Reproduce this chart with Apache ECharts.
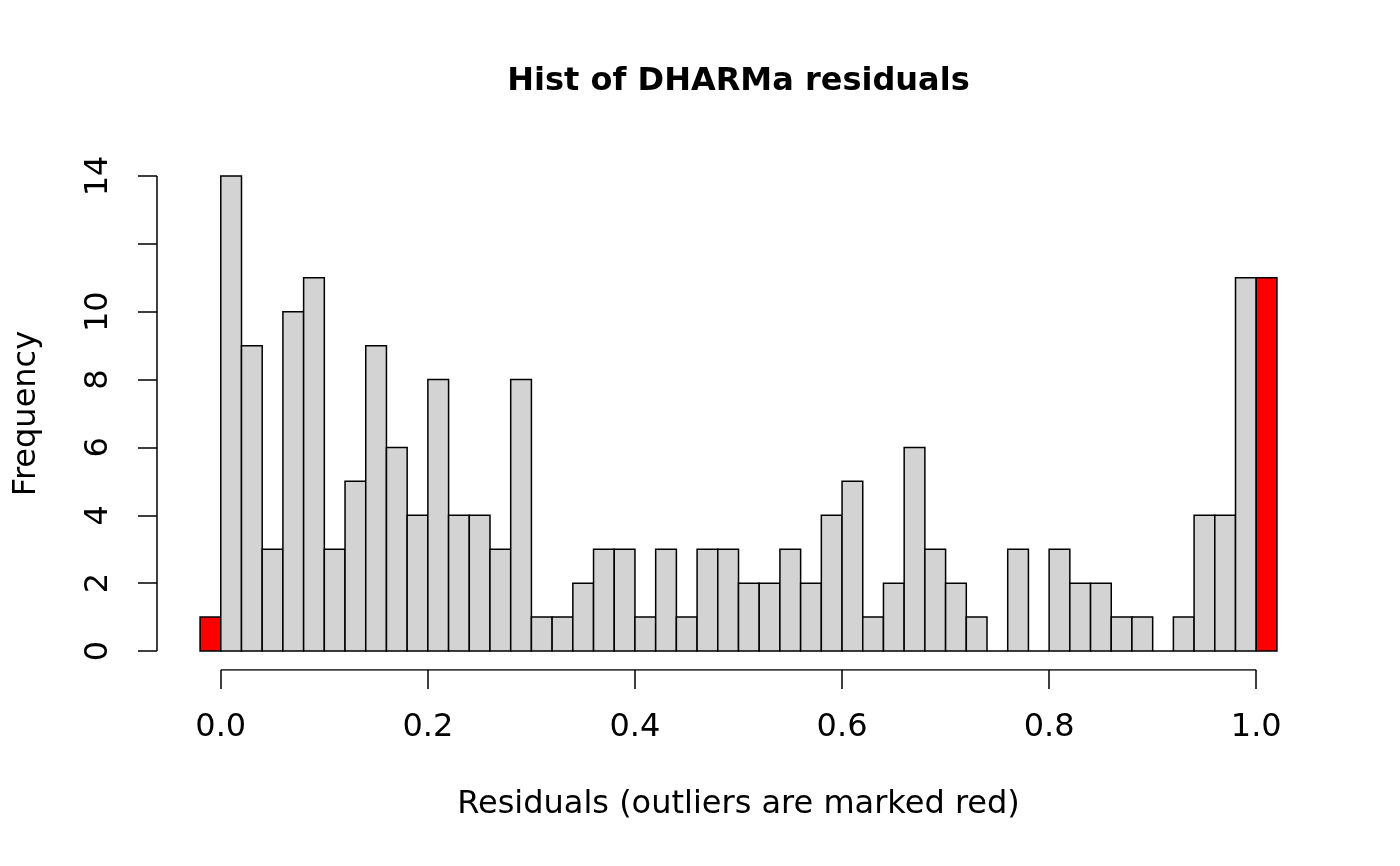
<!DOCTYPE html>
<html>
<head>
<meta charset="utf-8">
<script src="https://cdn.jsdelivr.net/npm/echarts@6/dist/echarts.min.js"></script>
<style>
html,body{margin:0;padding:0;background:#fff;}
#chart{width:1400px;height:866px;}
</style>
</head>
<body>
<div id="chart"></div>
<script>
// Histogram bin edges (left / right) and counts
var binLeft = [-0.02,0.00,0.02,0.04,0.06,0.08,0.10,0.12,0.14,0.16,0.18,0.20,0.22,0.24,0.26,0.28,0.30,0.32,0.34,0.36,0.38,0.40,0.42,0.44,0.46,0.48,0.50,0.52,0.54,0.56,0.58,0.60,0.62,0.64,0.66,0.68,0.70,0.72,0.74,0.76,0.78,0.80,0.82,0.84,0.86,0.88,0.90,0.92,0.94,0.96,0.98,1.00];
var binRight = [0.00,0.02,0.04,0.06,0.08,0.10,0.12,0.14,0.16,0.18,0.20,0.22,0.24,0.26,0.28,0.30,0.32,0.34,0.36,0.38,0.40,0.42,0.44,0.46,0.48,0.50,0.52,0.54,0.56,0.58,0.60,0.62,0.64,0.66,0.68,0.70,0.72,0.74,0.76,0.78,0.80,0.82,0.84,0.86,0.88,0.90,0.92,0.94,0.96,0.98,1.00,1.02];
var counts = [1,14,9,3,10,11,3,5,9,6,4,8,4,4,3,8,1,1,2,3,3,1,3,1,3,3,2,2,3,2,4,5,1,2,6,3,2,1,0,3,0,3,2,2,1,1,0,1,4,4,11,11];
var outlierBins = [0, 51];
var xTicks = [0, 0.2, 0.4, 0.6, 0.8, 1.0];
var yTicks = [0, 2, 4, 6, 8, 10, 12, 14];
var yTickLabels = [0, 2, 4, 6, 8, 10, 14];

var FONT = 'DejaVu Sans';
var data = binLeft.map(function (l, i) {
  return [l, binRight[i], counts[i], outlierBins.indexOf(i) >= 0 ? 1 : 0];
});

var X_MIN = -0.0616, X_MAX = 1.0616, Y_MIN = -0.56, Y_MAX = 14.56;

var chart = echarts.init(document.getElementById('chart'), null, {renderer: 'canvas'});
chart.setOption({
  animation: false,
  backgroundColor: '#ffffff',
  title: {
    text: 'Hist of DHARMa residuals',
    left: 733.5,
    textAlign: 'center',
    top: 61,
    textStyle: {fontFamily: FONT, fontWeight: 'bold', fontSize: 32, color: '#000'}
  },
  grid: {left: 157, right: 80, top: 157, bottom: 196, containLabel: false},
  xAxis: {
    type: 'value', min: X_MIN, max: X_MAX,
    splitLine: {show: false},
    axisLine: {show: false, onZero: false},
    axisTick: {show: true, customValues: xTicks, length: 19, lineStyle: {color: '#000', width: 1.5}},
    axisLabel: {
      customValues: xTicks, margin: 42,
      fontFamily: FONT, fontSize: 32, color: '#000',
      formatter: function (v) { return v.toFixed(1); }
    },
    name: 'Residuals (outliers are marked red)',
    nameLocation: 'middle', nameGap: 119,
    nameTextStyle: {fontFamily: FONT, fontSize: 32, color: '#000'}
  },
  yAxis: {
    type: 'value', min: Y_MIN, max: Y_MAX,
    splitLine: {show: false},
    axisLine: {show: false, onZero: false},
    axisTick: {show: true, customValues: yTicks, length: 19, lineStyle: {color: '#000', width: 1.5}},
    axisLabel: {
      customValues: yTickLabels, margin: 42, rotate: 90,
      fontFamily: FONT, fontSize: 32, color: '#000',
      formatter: function (v) { return String(Math.round(v)); }
    },
    name: 'Frequency',
    nameLocation: 'middle', nameGap: 114,
    nameTextStyle: {fontFamily: FONT, fontSize: 32, color: '#000'}
  },
  series: [
    {
      type: 'custom',
      data: data,
      silent: true,
      renderItem: function (params, api) {
        var p0 = api.coord([api.value(0), api.value(2)]);
        var p1 = api.coord([api.value(1), 0]);
        return {
          type: 'rect',
          shape: {x: p0[0], y: p0[1], width: p1[0] - p0[0], height: p1[1] - p0[1]},
          style: {fill: api.value(3) ? '#ff0000' : '#d3d3d3', stroke: '#000', lineWidth: 1.5}
        };
      }
    },
    {
      type: 'line', silent: true, symbol: 'none',
      data: [[xTicks[0], Y_MIN], [xTicks[xTicks.length - 1], Y_MIN]],
      lineStyle: {color: '#000', width: 1.5}
    },
    {
      type: 'line', silent: true, symbol: 'none',
      data: [[X_MIN, yTicks[0]], [X_MIN, yTicks[yTicks.length - 1]]],
      lineStyle: {color: '#000', width: 1.5}
    }
  ]
});
</script>
</body>
</html>
